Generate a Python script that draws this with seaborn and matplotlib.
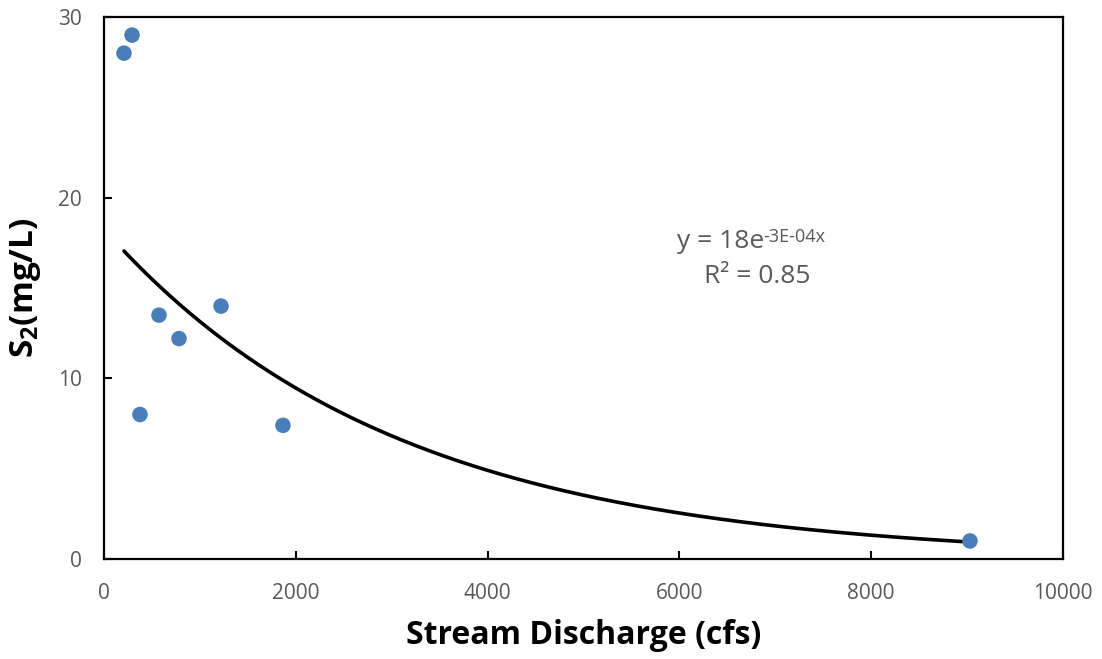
import numpy as np
import pandas as pd
import matplotlib
matplotlib.use("Agg")
import matplotlib.pyplot as plt
import seaborn as sns

# Stream discharge (cfs) and sulfate S2 concentration (mg/L)
discharge = [208, 292, 375, 573, 782, 1220, 1866, 9030]
s2_conc = [28.0, 29.0, 8.0, 13.5, 12.2, 14.0, 7.4, 1.0]

x_ticks = [0, 2000, 4000, 6000, 8000, 10000]
y_ticks = [0, 10, 20, 30]

equation_base = "y = 18e"
equation_exp = "-3E-04x"
r2_label = "R² = 0.85"

sns.set_theme(style="white")
plt.rcParams["font.family"] = ["Open Sans", "DejaVu Sans"]
plt.rcParams["mathtext.fontset"] = "custom"
plt.rcParams["mathtext.rm"] = "Open Sans"
plt.rcParams["mathtext.it"] = "Open Sans"
plt.rcParams["mathtext.bf"] = "Open Sans:bold"

df = pd.DataFrame({"Q": discharge, "S2": s2_conc})

fig = plt.figure(figsize=(11.02, 6.59), dpi=100)
ax = fig.add_axes([0.0944, 0.1517, 0.8702, 0.8225])

# exponential trendline fitted on log-transformed concentrations
b, ln_a = np.polyfit(df["Q"], np.log(df["S2"]), 1)
xs = np.linspace(df["Q"].min(), df["Q"].max(), 300)
trend = pd.DataFrame({"Q": xs, "S2": np.exp(ln_a) * np.exp(b * xs)})

sns.scatterplot(data=df, x="Q", y="S2", ax=ax, s=125, color="#4A7EBB",
                edgecolor="none", zorder=3)
sns.lineplot(data=trend, x="Q", y="S2", ax=ax, color="black", linewidth=2.6,
             zorder=2)

ax.set_xlim(0, 10000)
ax.set_ylim(0, 30)
ax.set_xticks(x_ticks)
ax.set_yticks(y_ticks)
ax.tick_params(axis="both", direction="in", length=6, width=1.5,
               colors="black", labelcolor="#595959", labelsize=15)
ax.tick_params(axis="x", top=False, bottom=True, pad=17)
ax.tick_params(axis="y", left=True, right=False, pad=16)
for side in ["left", "bottom", "right", "top"]:
    ax.spines[side].set_color("black")
    ax.spines[side].set_linewidth(1.6)

ax.set_xlabel("Stream Discharge (cfs)", fontsize=23, fontweight="bold",
              color="black", labelpad=11)
ax.set_ylabel(r"$\mathbf{S_{2}(mg/L)}$", fontsize=24, color="black",
              labelpad=11)

# trendline equation with its exponent as a superscript
base = ax.text(5975, 17.21, equation_base, fontsize=19, color="#595959",
               ha="left", va="baseline")
ax.annotate(equation_exp, xy=(1, 1), xycoords=base, xytext=(-1, 1),
            textcoords="offset points", fontsize=13, color="#595959",
            ha="left", va="top")
ax.text(6809, 15.27, r2_label, fontsize=19, color="#595959",
        ha="center", va="baseline")

fig.savefig("out.png", dpi=100)
